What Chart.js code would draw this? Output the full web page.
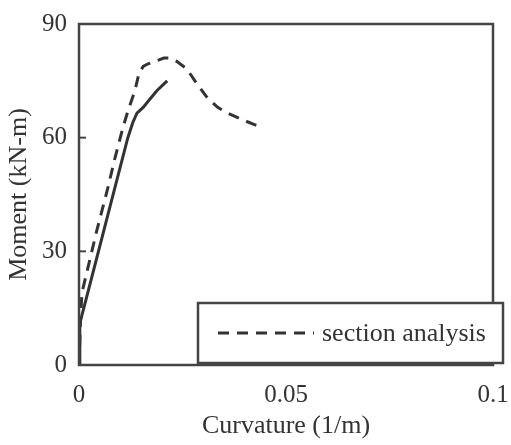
<!DOCTYPE html>
<html>
<head>
<meta charset="utf-8">
<script src="https://cdn.jsdelivr.net/npm/chart.js@4"></script>
<style>
  html, body { margin: 0; padding: 0; background: #fff; }
  #wrap { width: 511px; height: 445px; }
</style>
</head>
<body>
<div id="wrap"><canvas id="chart"></canvas></div>
<script>
// curvature (1/m) vs moment (kN-m)
const testCurv = [0, 0.0002, 0.004, 0.008, 0.0118, 0.013, 0.014, 0.0155, 0.017, 0.0188, 0.0213];
const testMoment = [0, 11, 27, 44, 60, 64, 66.5, 68, 70, 72.4, 75];

const sectionCurv = [0, 0.0003, 0.0007, 0.0043, 0.0068, 0.0087, 0.0106, 0.0118, 0.0135, 0.0145, 0.0155, 0.0167, 0.0188, 0.0205, 0.022, 0.0235, 0.026, 0.028, 0.031, 0.0335, 0.0357, 0.04, 0.0442];
const sectionMoment = [0, 10, 19, 35.5, 46, 54.7, 62.6, 67, 72.4, 77, 78.8, 79.5, 80.3, 81, 81, 80.2, 78.2, 75, 70.5, 68, 66.6, 64.5, 62.6];

const xTicks = [0, 0.05, 0.1];
const yTicks = [0, 30, 60, 90];

const ink = '#333';
const serif = '"Liberation Serif", "Times New Roman", serif';

const toPoints = (xs, ys) => xs.map((x, i) => ({ x: x, y: ys[i] }));

// frame round the plot, inward ticks, and the boxed legend
const framePlugin = {
  id: 'frame',
  afterDraw(chart) {
    const { ctx, chartArea: { left, right, top, bottom }, scales: { x, y } } = chart;
    ctx.save();
    ctx.strokeStyle = '#444';
    ctx.lineWidth = 2.5;
    ctx.strokeRect(left, top, right - left, bottom - top);
    ctx.lineWidth = 2;
    yTicks.forEach(v => {
      const py = y.getPixelForValue(v);
      ctx.beginPath(); ctx.moveTo(left, py); ctx.lineTo(left + 7, py); ctx.stroke();
    });
    xTicks.forEach(v => {
      const px = x.getPixelForValue(v);
      ctx.beginPath(); ctx.moveTo(px, bottom); ctx.lineTo(px, bottom - 4); ctx.stroke();
    });

    // legend box (only the dashed series is listed)
    const ds = chart.data.datasets[1];
    const bx = 198, by = 303, bw = 305, bh = 60;
    ctx.fillStyle = '#fff';
    ctx.fillRect(bx, by, bw, bh);
    ctx.strokeStyle = '#444';
    ctx.lineWidth = 2.5;
    ctx.strokeRect(bx, by, bw, bh);
    ctx.strokeStyle = ds.borderColor;
    ctx.lineWidth = 3;
    ctx.setLineDash(ds.borderDash);
    ctx.beginPath(); ctx.moveTo(218, 333); ctx.lineTo(314, 333); ctx.stroke();
    ctx.setLineDash([]);
    ctx.fillStyle = ink;
    ctx.font = '26px ' + serif;
    ctx.textBaseline = 'middle';
    ctx.fillText(ds.label, 322, 334);
    ctx.restore();
  }
};

new Chart(document.getElementById('chart'), {
  type: 'scatter',
  data: {
    datasets: [{
      label: 'test',
      data: toPoints(testCurv, testMoment),
      showLine: true,
      borderColor: ink,
      borderWidth: 3,
      pointRadius: 0,
      tension: 0
    }, {
      label: 'section analysis',
      data: toPoints(sectionCurv, sectionMoment),
      showLine: true,
      borderColor: ink,
      borderWidth: 3,
      borderDash: [11, 8],
      pointRadius: 0,
      tension: 0
    }]
  },
  options: {
    responsive: true,
    maintainAspectRatio: false,
    animation: false,
    layout: { padding: { top: 24, right: 18, left: 0, bottom: 0 } },
    plugins: { legend: { display: false }, tooltip: { enabled: false } },
    scales: {
      x: {
        type: 'linear',
        min: 0, max: 0.1,
        afterBuildTicks: s => { s.ticks = xTicks.map(v => ({ value: v })); },
        afterFit: s => { s.height = 80; s.paddingLeft = 0; s.paddingRight = 0; },
        grid: { display: false, drawTicks: false },
        border: { display: false },
        ticks: {
          color: ink, padding: 15,
          font: { family: serif, size: 25 },
          callback: v => String(v)
        },
        title: {
          display: true, text: 'Curvature (1/m)', color: ink,
          font: { family: serif, size: 26 }, padding: { top: 0, bottom: 3 }
        }
      },
      y: {
        type: 'linear',
        min: 0, max: 90,
        afterBuildTicks: s => { s.ticks = yTicks.map(v => ({ value: v })); },
        afterFit: s => { s.width = 79; s.paddingTop = 0; s.paddingBottom = 0; },
        grid: { display: false, drawTicks: false },
        border: { display: false },
        ticks: {
          color: ink, padding: 12,
          font: { family: serif, size: 25 }
        },
        title: {
          display: true, text: 'Moment (kN-m)', color: ink,
          font: { family: serif, size: 26 }, padding: { top: 4, bottom: 0 }
        }
      }
    }
  },
  plugins: [framePlugin]
});
</script>
</body>
</html>
